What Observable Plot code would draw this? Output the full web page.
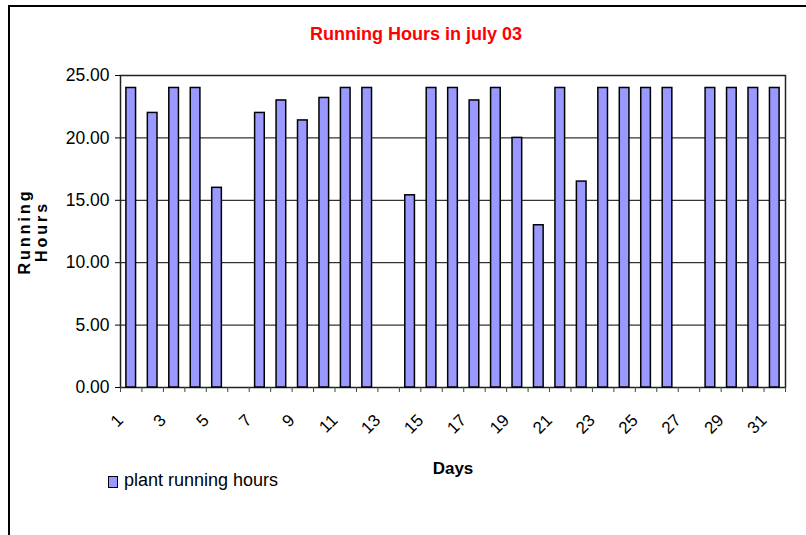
<!DOCTYPE html>
<html>
<head>
<meta charset="utf-8">
<script src="https://cdn.jsdelivr.net/npm/d3@7"></script>
<script src="https://cdn.jsdelivr.net/npm/@observablehq/plot@0.6"></script>
<style>
  html, body { margin: 0; padding: 0; background: #fff; }
  #wrap { position: relative; width: 806px; height: 535px; overflow: hidden; font-family: "Liberation Sans", Arial, sans-serif; }
  #border { position: absolute; left: 8px; top: 5px; width: 820px; height: 560px; border-left: 2px solid #000; border-top: 2px solid #000; }
  #title { position: absolute; left: 416px; top: 25px; transform: translateX(-50%); font-size: 18px; line-height: 18px; font-weight: bold; color: #ff0000; white-space: nowrap; }
  #legend { position: absolute; left: 108px; top: 471px; font-size: 18px; line-height: 18px; color: #000; white-space: nowrap; display: flex; align-items: center; }
  #legend .sw { width: 8px; height: 10px; background: #9999ff; border: 1.5px solid #000; margin-right: 6px; margin-top: 3px; }
  #chart { position: absolute; left: 0; top: 0; }
</style>
</head>
<body>
<div id="wrap">
  <div id="border"></div>
  <div id="chart"></div>
  <div id="title">Running Hours in july 03</div>
  <div id="legend"><span class="sw"></span><span>plant running hours</span></div>
</div>
<script>
const days = [1,2,3,4,5,6,7,8,9,10,11,12,13,14,15,16,17,18,19,20,21,22,23,24,25,26,27,28,29,30,31];
const hours = [24,22,24,24,16,0,22,23,21.4,23.2,24,24,0,15.4,24,24,23,24,20,13,24,16.5,24,24,24,24,0,24,24,24,24];
const xTickLabels = [1,3,5,7,9,11,13,15,17,19,21,23,25,27,29,31];
const yTicks = [0,5,10,15,20,25];
const seriesName = "plant running hours";

const data = days.map((d, i) => ({day: d, hours: hours[i]}));

const W = 806, H = 535, mL = 120, mR = 21, mT = 75, mB = 148;
const step = (W - mL - mR) / days.length;

const chart = Plot.plot({
  width: W,
  height: H,
  marginLeft: mL,
  marginRight: mR,
  marginTop: mT,
  marginBottom: mB,
  style: {fontFamily: "'Liberation Sans', Arial, sans-serif", fontSize: "17px", color: "#000", background: "transparent"},
  x: {type: "band", domain: days, paddingInner: 0.55, paddingOuter: 0.275, round: false, label: null},
  y: {domain: [0, 25], label: null},
  marks: [
    Plot.gridY([5,10,15,20], {stroke: "#000", strokeOpacity: 1, strokeWidth: 1}),
    Plot.frame({stroke: "#222", strokeWidth: 1.5}),
    Plot.barY(data.filter(d => d.hours > 0), {x: "day", y: "hours", fill: "#9999ff", stroke: "#000", strokeWidth: 1.5}),
    Plot.axisY(yTicks, {tickSize: 5, tickPadding: 6, fontSize: 17.5, tickFormat: d => d.toFixed(2), stroke: "#000"}),
    Plot.axisX(days, {tickSize: 5, tickFormat: () => "", dx: -step / 2, stroke: "#444"}),
    Plot.axisX([31], {tickSize: 5, tickFormat: () => "", dx: step / 2, stroke: "#444"}),
    Plot.axisX(xTickLabels, {tickSize: 0, tickRotate: -45, tickPadding: 30, dx: -11, fontSize: 17}),
    Plot.text(["Days"], {frameAnchor: "bottom", lineAnchor: "bottom", dy: 86, fontSize: 17, fontWeight: "bold", fill: "#000"}),
    Plot.text(["Running\nHours"], {frameAnchor: "left", textAnchor: "middle", rotate: -90, dx: -87, lineHeight: 1.06, fontSize: 16, fontWeight: "bold", fill: "#000"})
  ]
});
d3.select(chart).selectAll("text")
  .filter(function () { return this.textContent.startsWith("Running"); })
  .style("letter-spacing", "3px");
document.getElementById("chart").appendChild(chart);
</script>
</body>
</html>
